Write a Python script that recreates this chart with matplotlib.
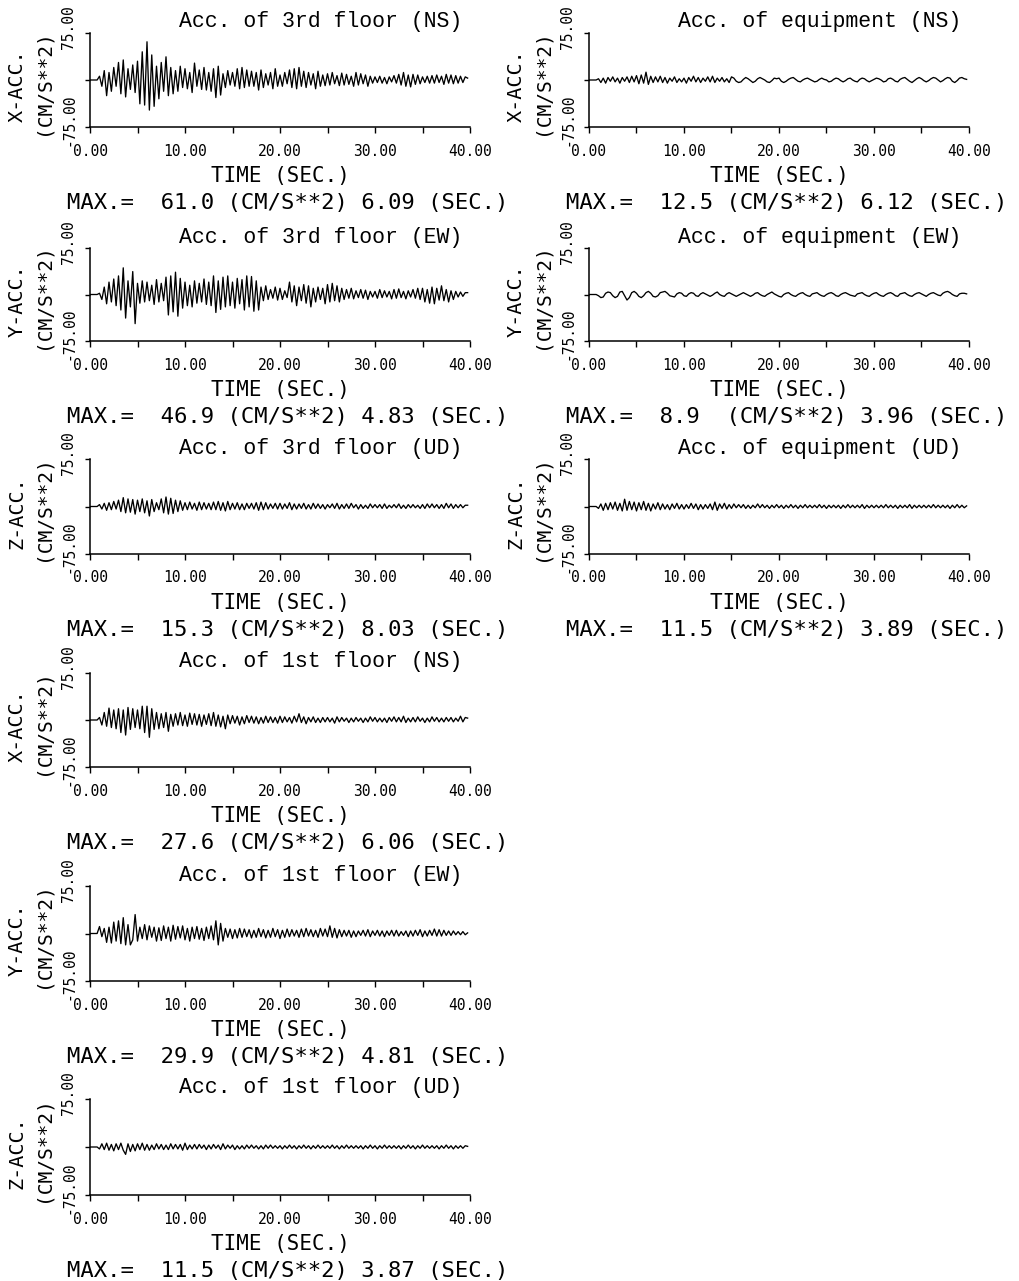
import numpy as np
import matplotlib.pyplot as plt

W, H = 1020, 1281
dt = 0.25

# acceleration traces, cm/s^2, one value every 0.25 s from t = 0
acc3_ns = [0, 0, 0, 0, 6, -10, 15, -25, 12, -18, 20, -10, 28, -22, 32, -27,
           18, -15, 24, -20, 30, -38, 45, -40, 61, -48, 40, -42, 22, -30, 28, -18,
           37, -25, 20, -22, 15, -18, 22, -12, 18, -14, 12, -20, 27, -10, 16, -15,
           20, -16, 12, -18, 18, -28, 22, -24, 10, -12, 15, -8, 12, -10, 18, -14,
           20, -12, 16, -10, 14, -10, 12, -16, 16, -12, 10, -8, 12, -14, 18, -10,
           8, -10, 12, -6, 16, -12, 18, -14, 20, -10, 14, -12, 12, -8, 10, -14,
           14, -10, 8, -9, 10, -8, 12, -6, 7, -9, 11, -8, 9, -7, 6, -10,
           12, -8, 10, -6, 8, -10, 6, -5, 5, -4, 6, -5, 4, -6, 5, -3,
           7, -5, 9, -8, 12, -10, 8, -11, 9, -7, 8, -6, 5, -4, 6, -5,
           7, -5, 8, -4, 6, -7, 9, -5, 8, -6, 7, -5, 6, -4, 5, 3]
acc3_ew = [0, 0, 0, 0, 2, -8, 12, -15, 20, -12, 25, -18, 30, -25, 43, -38,
           22, -20, 37, -47, 18, -14, 22, -12, 20, -10, 15, -16, 24, -12, 18, -10,
           28, -33, 30, -28, 36, -35, 26, -22, 20, -18, 15, -20, 22, -14, 18, -12,
           25, -16, 20, -18, 30, -29, 22, -24, 28, -20, 30, -18, 20, -22, 26, -15,
           24, -25, 30, -20, 29, -27, 22, -25, 12, -10, 14, -8, 8, -6, 12, -9,
           10, -8, 6, -5, 20, -12, 14, -18, 12, -10, 16, -14, 14, -20, 10, -12,
           12, -8, 10, -15, 16, -12, 18, -10, 14, -12, 10, -8, 8, -6, 10, -7,
           6, -5, 8, -6, 7, -8, 5, -4, 5, -6, 8, -5, 6, -4, 5, -7,
           8, -6, 9, -5, 5, -7, 6, -4, 8, -6, 10, -8, 10, -12, 8, -14,
           12, -15, 10, -9, 14, -10, 8, -12, 6, -8, 5, -4, 4, -3, 3, 3]
acc3_ud = [0, 0, 0, 0, 3, -4, 5, -6, 6, -5, 8, -4, 10, -8, 14, -10,
           12, -9, 11, -12, 10, -8, 12, -10, 9, -15, 11, -8, 6, -5, 12, -10,
           15, -12, 13, -11, 10, -8, 9, -6, 6, -5, 7, -4, 5, -6, 7, -5,
           6, -4, 5, -5, 7, -5, 8, -6, 6, -7, 8, -5, 5, -4, 6, -5,
           4, -5, 5, -3, 5, -4, 6, -6, 7, -5, 6, -4, 4, -3, 5, -4,
           5, -4, 4, -3, 6, -5, 4, -4, 4, -3, 5, -4, 3, -4, 5, -3,
           4, -3, 3, -4, 3, -2, 4, -3, 5, -4, 3, -3, 4, -3, 5, -2,
           3, -4, 3, -3, 2, -3, 4, -2, 3, -2, 3, -3, 4, -3, 2, -2,
           3, -2, 4, -3, 2, -3, 3, -2, 3, -2, 2, -3, 3, -3, 4, -2,
           4, -2, 3, -3, 3, -3, 5, -2, 4, -3, 3, -2, 3, -2, 2, 2]
acc1_ns = [0, 0, 0, 0, 4, -8, 12, -10, 19, -12, 16, -14, 18, -20, 16, -24,
           20, -15, 18, -12, 16, -14, 22, -20, 22, -27.6, 18, -15, 12, -14, 10, -12,
           12, -18, 9, -10, 10, -8, 12, -9, 8, -10, 11, -7, 10, -8, 9, -10,
           8, -7, 10, -9, 12, -10, 8, -11, 6, -14, 8, -6, 7, -5, 6, -8,
           5, -6, 7, -4, 6, -5, 5, -6, 4, -5, 6, -4, 5, -4, 4, -5,
           6, -4, 5, -3, 4, -5, 6, -3, 10, -4, 5, -6, 4, -3, 5, -4,
           3, -4, 4, -3, 4, -3, 3, -5, 5, -3, 4, -2, 3, -4, 3, -3,
           4, -2, 3, -4, 3, -3, 5, -2, 4, -3, 3, -3, 3, -4, 4, -2,
           5, -3, 4, -3, 6, -4, 3, -3, 4, -3, 5, -2, 3, -4, 3, -3,
           5, -2, 4, -3, 3, -3, 4, -2, 4, -3, 3, -2, 6, -3, 4, 3]
acc1_ew = [0, 0, 0, 0, 11, -5, 8, -14, 10, -15, 18, -12, 20, -16, 25, -18,
           14, -18, -10, 29.9, -12, 10, -8, 14, -10, 12, -6, 10, -12, 9, -11, 12,
           -8, 10, -12, 13, -9, 11, -7, 12, -10, 8, -12, 10, -8, 11, -9, 8,
           -11, 10, -8, 12, -10, 20, -18, 16, -12, 8, -6, 7, -8, 6, -7, 8,
           -6, 7, -5, 6, -7, 5, -6, 8, -5, 6, -7, 5, -6, 8, -5, 6,
           -8, 5, -6, 7, -5, 6, -4, 5, -6, 7, -5, 8, -4, 6, -5, 5,
           -6, 8, -4, 7, -5, 12, -6, 8, -7, 6, -5, 5, -4, 5, -6, 4,
           -5, 4, -3, 5, -4, 6, -5, 4, -3, 5, -4, 4, -5, 4, -3, 5,
           -4, 5, -4, 3, -3, 4, -5, 4, -4, 5, -3, 6, -5, 4, -4, 5,
           -3, 7, -4, 6, -4, 5, -3, 4, -3, 4, -2, 3, -2, 3, -2, 1]
acc1_ud = [0, 0, 0, 0, -3, 5, -4, 6, -5, 4, -6, 5, -4, 6, -5, -11.5,
           5, -7, 4, -6, 5, -4, 6, -5, 4, -5, 3, -4, 5, -3, 4, -4,
           3, -4, 5, -3, 4, -3, 4, -5, 6, -4, 3, -3, 4, -3, 4, -2,
           3, -4, 3, -3, 4, -2, 3, -4, 5, -3, 3, -2, 3, -4, 2, -3,
           2, -3, 3, -2, 3, -2, 2, -3, 2, -3, 3, -2, 3, -2, 2, -2,
           2, -3, 2, -2, 3, -2, 2, -3, 2, -2, 3, -2, 2, -3, 2, -2,
           3, -2, 2, -2, 2, -2, 3, -2, 2, -3, 2, -2, 3, -2, 2, -2,
           2, -2, 2, -3, 2, -2, 3, -2, 2, -3, 2, -2, 3, -2, 2, -2,
           2, -2, 2, -3, 2, -2, 3, -2, 2, -3, 2, -2, 3, -2, 2, -2,
           2, -2, 2, -3, 2, -2, 3, -2, 2, -3, 2, -2, 2, -2, 2, 1]
eq_ns = [0, 0, 0, 0, 2, -4, 3, -5, 4, -2, 5, -3, 3, -5, 4, -2,
         5, -4, 6, -3, 7, -6, 8, -5, 12.5, -7, 6, -4, 5, -3, 6, -4,
         4, -5, 3, -2, 5, -4, 2, -3, 3, -5, 4, -2, 6, -3, 4, -4,
         3, -2, 5, -3, 6, -4, 3, -2, 4, -3, 2, -4, 5, 3, -2, -4,
         -3, 1, 4, 2, -1, -4, -2, 2, 4, 2, 0, -3, -4, -1, 3, 2,
         3, -2, -4, -2, 1, 3, 4, 1, -2, -3, 0, 2, 3, 1, -1, -3,
         -2, 1, 3, 1, 0, -3, -2, 1, 3, 2, -1, -3, -1, 2, 3, 0,
         -2, -3, 1, 3, 2, -1, -3, -1, 1, 3, 2, 0, -3, -2, 2, 3,
         1, -2, -3, 1, 3, 4, 1, -2, -4, -1, 2, 4, 2, -1, -3, -1,
         2, 4, 3, 0, -3, -1, 2, 4, 3, -2, -4, -1, 3, 4, 2, 1]
eq_ew = [0, 0, 0, 0, -2, -5, -4, 2, 4, 3, -2, -5, -3, 4, 5, -2,
         -8.9, -5, 3, 5, 2, -3, -5, -2, 3, 5, 2, -3, -4, -2, 3, 4,
         5, 2, -2, -3, -4, 1, 3, 2, -2, -3, 1, 3, 2, -2, -3, 1,
         3, 1, -1, -3, -1, 2, 4, 0, -2, -3, 1, 3, 1, -1, -3, -1,
         1, 3, 1, -1, -3, -1, 2, 3, 0, -2, -3, 0, 2, 4, 1, -1,
         -3, -4, 0, 2, 3, 0, -2, -3, 0, 2, 3, 0, -2, -3, 1, 2,
         3, 0, -2, -3, 0, 2, 3, 1, -2, -3, 0, 2, 3, 1, -1, -2,
         -3, 1, 2, 3, 0, -2, -3, 0, 2, 3, 0, -2, -3, 0, 2, 3,
         1, -2, -3, 1, 2, 3, 0, -2, -3, 0, 2, 3, 1, -1, -3, 0,
         2, 3, 1, -1, -2, 2, 4, 5, 3, 0, -2, -3, 1, 2, 2, 1]
eq_ud = [0, 0, 0, 0, -3, 4, -6, 5, -5, 6, -4, 7, -6, 5, -7, 11.5,
         -6, 8, -5, 7, -7, 6, -5, 8, -6, 5, -7, 4, -4, 6, -5, 4,
         -4, 3, -5, 4, -3, 5, -4, 3, -4, 3, -3, 5, -3, 4, -5, 3,
         -4, 3, -3, 4, -5, 7, -6, 4, -3, 5, -4, 3, -3, 4, -2, 3,
         -2, 3, -3, 2, -3, 2, -2, 4, -2, 3, -2, 2, -3, 2, -2, 3,
         -2, 2, -3, 2, -2, 3, -2, 2, -3, 2, -2, 3, -2, 2, -2, 2,
         -2, 3, -2, 2, -3, 2, -2, 2, -2, 2, -3, 2, -2, 3, -2, 2,
         -2, 2, -2, 3, -3, 2, -2, 2, -2, 2, -2, 2, -2, 3, -2, 2,
         -2, 2, -3, 2, -2, 2, -2, 3, -3, 2, -2, 2, -2, 2, -2, 2,
         -2, 3, -2, 2, -2, 2, -2, 2, -3, 2, -2, 3, -2, 2, -2, 1]

# panel texts and peak values printed under each panel
titles = ["Acc. of 3rd floor (NS)", "Acc. of 3rd floor (EW)", "Acc. of 3rd floor (UD)",
          "Acc. of 1st floor (NS)", "Acc. of 1st floor (EW)", "Acc. of 1st floor (UD)",
          "Acc. of equipment (NS)", "Acc. of equipment (EW)", "Acc. of equipment (UD)"]
ylabels = ["X-ACC.", "Y-ACC.", "Z-ACC.", "X-ACC.", "Y-ACC.", "Z-ACC.",
           "X-ACC.", "Y-ACC.", "Z-ACC."]
peak_vals = [61.0, 46.9, 15.3, 27.6, 29.9, 11.5, 12.5, 8.9, 11.5]
peak_times = [6.09, 4.83, 8.03, 6.06, 4.81, 3.87, 6.12, 3.96, 3.89]
traces = [acc3_ns, acc3_ew, acc3_ud, acc1_ns, acc1_ew, acc1_ud, eq_ns, eq_ew, eq_ud]
columns = [0, 0, 0, 0, 0, 0, 1, 1, 1]
rows = [0, 1, 2, 3, 4, 5, 0, 1, 2]
xtick_vals = [0, 10, 20, 30, 40]

# layout in pixels
col_left = [90, 589]
col_width = 380
row_box = [(33, 127), (248, 341), (459, 554), (673, 767), (886, 981), (1099, 1195)]

mono = 'DejaVu Sans Mono'
serif_mono = 'Liberation Mono'

fig = plt.figure(figsize=(W / 100, H / 100), dpi=100)
fig.patch.set_facecolor('white')


def put(ax, s, xy, coords, dx, dy, size, **kw):
    ax.annotate(s, xy=xy, xycoords=coords, xytext=(dx, dy),
                textcoords='offset pixels', ha=kw.pop('ha', 'center'),
                va='center', fontsize=size, family=kw.pop('family', mono),
                annotation_clip=False, **kw)


for i in range(len(traces)):
    top, bot = row_box[rows[i]]
    x0 = col_left[columns[i]]
    ax = fig.add_axes([x0 / W, 1 - bot / H, col_width / W, (bot - top) / H])
    acc = np.array(traces[i], dtype=float)
    t = np.arange(len(acc)) * dt
    ax.plot(t, acc, color='black', lw=0.95)

    ax.set_xlim(0, 40)
    ax.set_ylim(-75, 75)
    ax.patch.set_alpha(0)
    for s in ['top', 'right']:
        ax.spines[s].set_visible(False)
    for s in ['left', 'bottom']:
        ax.spines[s].set_linewidth(1.1)
    ax.set_xticks(np.arange(0, 41, 5))
    ax.set_yticks([-75, 0, 75])
    ax.tick_params(axis='x', direction='out', length=4.5, width=1.0, labelbottom=False)
    ax.tick_params(axis='y', direction='out', length=3.5, width=1.0, labelleft=False)

    for v in xtick_vals:
        put(ax, "%.2f" % v, (v, 0), ('data', 'axes fraction'), 0, -24, 10.5)
    put(ax, "75.00", (0, 75), ('axes fraction', 'data'), -21, 6, 10.5, rotation=90)
    put(ax, "-75.00", (0, -75), ('axes fraction', 'data'), -21, 7, 10.5, rotation=90)
    put(ax, ylabels[i], (0, 0.5), 'axes fraction', -73, -6, 14.5, rotation=90)
    put(ax, "(CM/S**2)", (0, 0.5), 'axes fraction', -47, -2, 14, rotation=90)
    put(ax, "TIME (SEC.)", (0.5, 0), 'axes fraction', 0, -49, 15)
    max_txt = "MAX.=  %-4.1f (CM/S**2) %4.2f (SEC.)" % (peak_vals[i], peak_times[i])
    put(ax, max_txt, (0, 0), 'axes fraction', -23, -76, 16, ha='left')
    put(ax, titles[i], (0.607, 1), 'axes fraction', 0, 11, 15.5, family=serif_mono)

fig.savefig('out.png', dpi=100)
